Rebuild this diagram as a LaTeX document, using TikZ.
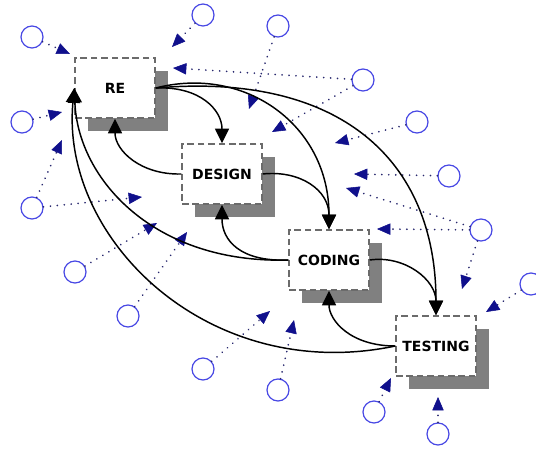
\documentclass[tikz,border=0pt]{standalone}
\usepackage{fontspec}
\setmainfont{DejaVu Sans}
\usetikzlibrary{arrows.meta,shadows}

\definecolor{ringblue}{RGB}{72,72,228}
\definecolor{dotnavy}{RGB}{40,40,110}
\definecolor{tipnavy}{RGB}{16,16,140}
\definecolor{shadowgray}{RGB}{128,128,128}

\tikzset{
	stagebox/.style={rectangle, draw=black!58, fill=white, line width=1.1pt,
		dash pattern=on 5pt off 2.8pt, minimum width=60pt, minimum height=45pt,
		font=\fontsize{10.5}{12}\selectfont\bfseries,
		drop shadow={shadow xshift=9.5pt, shadow yshift=-9.75pt, fill=shadowgray, opacity=1}},
	ring/.style={circle, draw=ringblue, line width=0.9pt, minimum size=16.5pt, inner sep=0pt},
	feed/.style={dotnavy, line width=1.4pt, dash pattern=on 0.01pt off 5.2pt, line cap=round,
		-{Triangle[length=10pt,width=8.5pt,color=tipnavy,fill=tipnavy,line width=0.4pt]}},
	flow/.style={black, line width=1.1pt, -{Triangle[length=11pt,width=10.5pt]}}
}

\begin{document}
\begin{tikzpicture}[x=0.75pt,y=-0.75pt]
				\useasboundingbox (0,0) rectangle (536,449);
				%outer circles
				\foreach \n/\x/\y in {1/32/37, 2/203/15, 3/278/26, 4/363/80, 5/417/122, 6/449/176,
					7/481/230, 8/531/284, 9/438/434, 10/374/412, 11/278/390, 12/203/369,
					13/128/316, 14/75/272, 15/32/208, 16/22/122}{
					\node[ring] (c\n) at (\x,\y){};
				}
				%dotted inputs
				\foreach \c/\t/\x/\y in {1/1/70/54, 2/2/172/47, 3/3/249/109, 4/4/173/68, 4/5/272/132,
					5/6/335/143, 6/7/354/174, 7/8/346/188, 7/9/377/229, 7/10/462/289,
					8/11/486/312, 9/12/438/397, 10/13/391/378, 11/14/294/320, 12/15/270/311,
					13/16/187/232, 14/17/157/223, 15/18/142/197, 15/19/62/140, 16/20/62/112}{
					\coordinate (t\t) at (\x,\y);
					\draw[feed] (c\c) -- (t\t);
				}
				%phases
				\node[stagebox] (re) at (115,88){RE};
				\node[stagebox] (design) at (222,174){DESIGN};
				\node[stagebox] (coding) at (329,260){CODING};
				\node[stagebox] (testing) at (436,346){TESTING};
				%forward
				\draw[flow] (re.east) .. controls (200,86) and (222,110) .. (design.north);
				\draw[flow] (re.east) .. controls (245,65) and (329,125) .. (coding.north);
				\draw[flow] (re.east) .. controls (340,72) and (436,160) .. (testing.north);
				\draw[flow] (design.east) .. controls (300,170) and (329,190) .. (coding.north);
				\draw[flow] (coding.east) .. controls (405,255) and (436,280) .. (testing.north);
				%backward
				\draw[flow] (design.west) .. controls (140,175) and (115,150) .. (re.south);
				\draw[flow] (coding.west) .. controls (240,262) and (222,240) .. (design.south);
				\draw[flow] (testing.west) .. controls (350,346) and (329,320) .. (coding.south);
				\draw[flow] (coding.west) .. controls (155,264) and (78,180) .. (re.west);
				\draw[flow] (testing.west) .. controls (210,385) and (60,240) .. (re.west);
\end{tikzpicture}
\end{document}
